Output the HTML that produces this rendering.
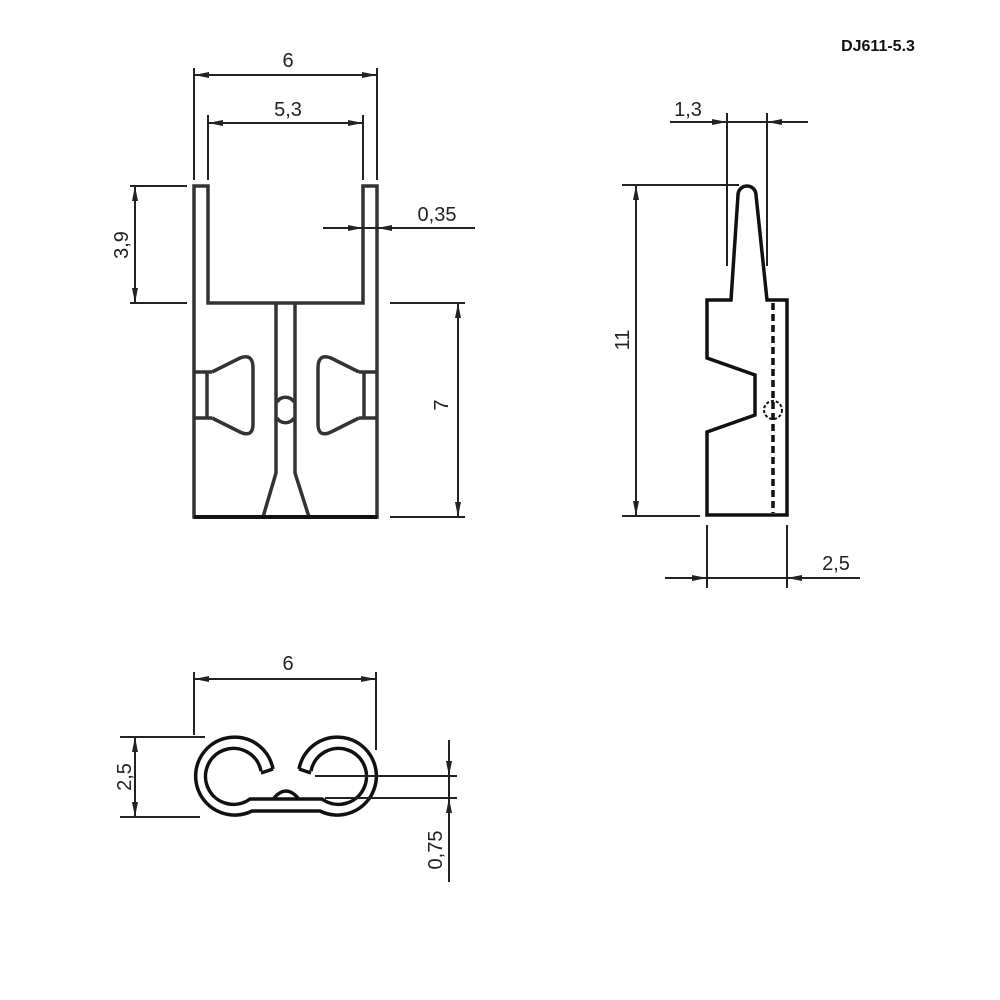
<!DOCTYPE html>
<html><head><meta charset="utf-8"><style>
html,body{margin:0;padding:0;background:#fff;}
svg{display:block;}
text{font-family:"Liberation Sans",sans-serif;font-size:20px;fill:#222;}
</style></head><body>
<svg width="1000" height="1000" viewBox="0 0 1000 1000" xmlns="http://www.w3.org/2000/svg">
<rect width="1000" height="1000" fill="#fff"/>
<text x="878" y="51" text-anchor="middle" style="font-size:16px;font-weight:bold;fill:#111">DJ611-5.3</text>

<!-- FRONT VIEW -->
<g fill="none" stroke="#333" stroke-width="3.5" stroke-linejoin="miter">
<path d="M194,186 L208,186 L208,303 L363,303 L363,186 L377,186 L377,517 L194,517 Z"/>
<path d="M276,304 L276,473 L263,517 M295,304 L295,473 L309,517"/>
<path d="M277,402 A10,10 0 0,1 294,402 M277,418 A10,10 0 0,0 294,418"/>
<path d="M194,372 L212,372 M194,418 L212,418 M207,372 L207,418"/>
<path d="M212,372 L240,358 Q253,353 253,368 L253,424 Q253,438 240,432 L212,418"/>
<path d="M377,372 L359,372 M377,418 L359,418 M364,372 L364,418"/>
<path d="M359,372 L331,358 Q318,353 318,368 L318,424 Q318,438 331,432 L359,418"/>
</g>
<line x1="194" y1="517" x2="377" y2="517" stroke="#111" stroke-width="4"/>

<!-- SIDE VIEW -->
<g fill="none" stroke="#111" stroke-width="3.5" stroke-linejoin="miter">
<path d="M731,300 L738,195 A9,9 0 0,1 756,195 L767,300 L787,300 L787,515 L707,515 L707,432 L755,415 L755,375 L707,358 L707,300 Z"/>
</g>
<line x1="773" y1="303" x2="773" y2="513" stroke="#111" stroke-width="3.5" stroke-dasharray="7,4"/>
<circle cx="773" cy="410" r="9" fill="none" stroke="#111" stroke-width="2" stroke-dasharray="3,2"/>

<!-- BOTTOM VIEW -->
<g fill="none" stroke="#111" stroke-width="3.5">
<path d="M273,769 A39,39 0 1,0 252,811 L320,811 A39,39 0 1,0 299,769"/>
<path d="M261,771 A28,28 0 1,0 250,799 L322,799 A28,28 0 1,0 311,771"/>
<path d="M273,769 L261,773 M299,769 L311,773"/>
<path d="M274,798 Q286,784 298,798"/>
</g>

<!-- DIMENSION LINES -->
<g stroke="#222" stroke-width="2" fill="none">
<line x1="194" y1="68" x2="194" y2="180"/><line x1="377" y1="68" x2="377" y2="180"/>
<line x1="194" y1="75" x2="377" y2="75"/>
<line x1="208" y1="115" x2="208" y2="180"/><line x1="363" y1="115" x2="363" y2="180"/>
<line x1="208" y1="123" x2="363" y2="123"/>
<line x1="130" y1="186" x2="187" y2="186"/><line x1="130" y1="303" x2="187" y2="303"/>
<line x1="135" y1="186" x2="135" y2="303"/>
<line x1="323" y1="228" x2="475" y2="228"/>
<line x1="390" y1="303" x2="465" y2="303"/><line x1="390" y1="517" x2="465" y2="517"/>
<line x1="458" y1="303" x2="458" y2="517"/>
<line x1="670" y1="122" x2="808" y2="122"/>
<line x1="727" y1="113" x2="727" y2="266"/><line x1="767" y1="113" x2="767" y2="266"/>
<line x1="622" y1="185" x2="739" y2="185"/><line x1="622" y1="516" x2="700" y2="516"/>
<line x1="636" y1="185" x2="636" y2="516"/>
<line x1="707" y1="525" x2="707" y2="588"/><line x1="787" y1="525" x2="787" y2="588"/>
<line x1="665" y1="578" x2="860" y2="578"/>
<line x1="194" y1="672" x2="194" y2="735"/><line x1="376" y1="672" x2="376" y2="750"/>
<line x1="194" y1="679" x2="376" y2="679"/>
<line x1="120" y1="737" x2="205" y2="737"/><line x1="120" y1="817" x2="200" y2="817"/>
<line x1="135" y1="737" x2="135" y2="817"/>
<line x1="315" y1="776" x2="457" y2="776"/><line x1="325" y1="798" x2="457" y2="798"/>
<line x1="449" y1="740" x2="449" y2="882"/>
</g>

<!-- ARROWHEADS -->
<g fill="#222">
<polygon points="194,75 209,72 209,78"/><polygon points="377,75 362,72 362,78"/>
<polygon points="208,123 223,120 223,126"/><polygon points="363,123 348,120 348,126"/>
<polygon points="135,186 132,201 138,201"/><polygon points="135,303 132,288 138,288"/>
<polygon points="363,228 348,225 348,231"/><polygon points="377,228 392,225 392,231"/>
<polygon points="458,303 455,318 461,318"/><polygon points="458,517 455,502 461,502"/>
<polygon points="727,122 712,119 712,125"/><polygon points="767,122 782,119 782,125"/>
<polygon points="636,185 633,200 639,200"/><polygon points="636,516 633,501 639,501"/>
<polygon points="707,578 692,575 692,581"/><polygon points="787,578 802,575 802,581"/>
<polygon points="194,679 209,676 209,682"/><polygon points="376,679 361,676 361,682"/>
<polygon points="135,737 132,752 138,752"/><polygon points="135,817 132,802 138,802"/>
<polygon points="449,776 446,761 452,761"/><polygon points="449,798 446,813 452,813"/>
</g>

<!-- LABELS -->
<text x="288" y="67" text-anchor="middle">6</text>
<text x="288" y="116" text-anchor="middle">5,3</text>
<text transform="translate(128,245) rotate(-90)" text-anchor="middle">3,9</text>
<text x="437" y="221" text-anchor="middle">0,35</text>
<text transform="translate(448,405) rotate(-90)" text-anchor="middle">7</text>
<text x="688" y="116" text-anchor="middle">1,3</text>
<text transform="translate(629,340) rotate(-90)" text-anchor="middle">11</text>
<text x="836" y="570" text-anchor="middle">2,5</text>
<text x="288" y="670" text-anchor="middle">6</text>
<text transform="translate(131,777) rotate(-90)" text-anchor="middle">2,5</text>
<text transform="translate(442,850) rotate(-90)" text-anchor="middle">0,75</text>
</svg>
</body></html>
